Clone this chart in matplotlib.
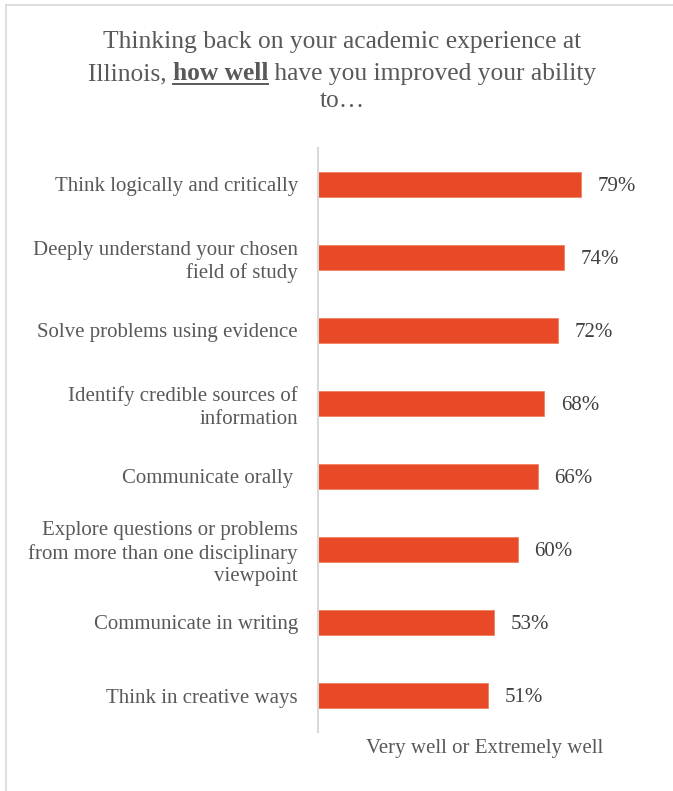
import matplotlib
matplotlib.use("Agg")
import matplotlib.pyplot as plt
from matplotlib.lines import Line2D

categories = [
    "Think logically and critically",
    "Deeply understand your chosen\nfield of study",
    "Solve problems using evidence",
    "Identify credible sources of\ninformation",
    "Communicate orally ",
    "Explore questions or problems\nfrom more than one disciplinary\nviewpoint",
    "Communicate in writing",
    "Think in creative ways",
]
values = [79, 74, 72, 68, 66, 60, 53, 51]
value_labels = ["79%", "74%", "72%", "68%", "66%", "60%", "53%", "51%"]
x_label = "Very well or Extremely well"

plt.rcParams['font.family'] = ['Liberation Serif', 'DejaVu Serif']

W, H = 673, 791
fig = plt.figure(figsize=(W / 100, H / 100), dpi=100)
ax = fig.add_axes([318 / W, 1 - 732 / H, (651 - 318) / W, (732 - 148) / H])

bar_color = "#E84A27"
ypos = list(range(len(categories)))
ax.barh(ypos, values, height=0.35, color=bar_color, edgecolor="#F08060", linewidth=0.6)
ax.set_xlim(0, 100)
ax.set_ylim(len(categories) - 0.5, -0.5)

for sp in ["top", "right", "bottom"]:
    ax.spines[sp].set_visible(False)
ax.spines["left"].set_color("#D9D9D9")
ax.spines["left"].set_linewidth(1.5)
ax.set_xticks([])
ax.set_yticks(ypos)
ax.set_yticklabels(categories, fontsize=15, color="#595959", ha="right", linespacing=1.22)
ax.tick_params(axis="y", length=0, pad=14.4)

for y, v, lab in zip(ypos, values, value_labels):
    ax.annotate(lab, (v, y), xytext=(12, -1.5), textcoords="offset points",
                va="center", ha="left", fontsize=15, color="#404040")

ax.set_xlabel(x_label, fontsize=15, color="#595959", labelpad=5)

# Title
tcolor = "#595959"
tsize = 18.4
cx = 342 / W
fig.text(cx, 1 - 42 / H, "Thinking back on your academic experience at", ha="center", va="center",
         fontsize=tsize, color=tcolor)
fig.text(cx, 1 - 101 / H, "to\u2026", ha="center", va="center", fontsize=tsize, color=tcolor)

# Second line with bold underlined part
parts = [("Illinois, ", "normal"), ("how well", "bold"), (" have you improved your ability", "normal")]
fig.canvas.draw()
renderer = fig.canvas.get_renderer()
texts = []
widths = []
for s, w in parts:
    t = fig.text(0, 0.5, s, ha="left", va="baseline", fontsize=tsize, color=tcolor, fontweight=w)
    bb = t.get_window_extent(renderer)
    texts.append(t)
    widths.append(bb.width)
sum_w = sum(widths)
xstart = cx * W - sum_w / 2
xcur = xstart
ybase = (1 - 80 / H)
for t, wpx in zip(texts, widths):
    t.set_position((xcur / W, ybase))
    xcur += wpx
# underline for bold part
bx0 = xstart + widths[0]
bx1 = bx0 + widths[1]
uly = ybase - 3.5 / H
fig.add_artist(Line2D([bx0 / W, bx1 / W], [uly, uly], color=tcolor, linewidth=1.4,
                      transform=fig.transFigure))

# Outer border (left and top)
fig.add_artist(Line2D([6 / W, 6 / W], [0, 1 - 5 / H], color="#D9D9D9", linewidth=1.2,
                      transform=fig.transFigure))
fig.add_artist(Line2D([6 / W, 1], [1 - 5 / H, 1 - 5 / H], color="#D9D9D9", linewidth=1.2,
                      transform=fig.transFigure))

fig.savefig("out.png", dpi=100)
